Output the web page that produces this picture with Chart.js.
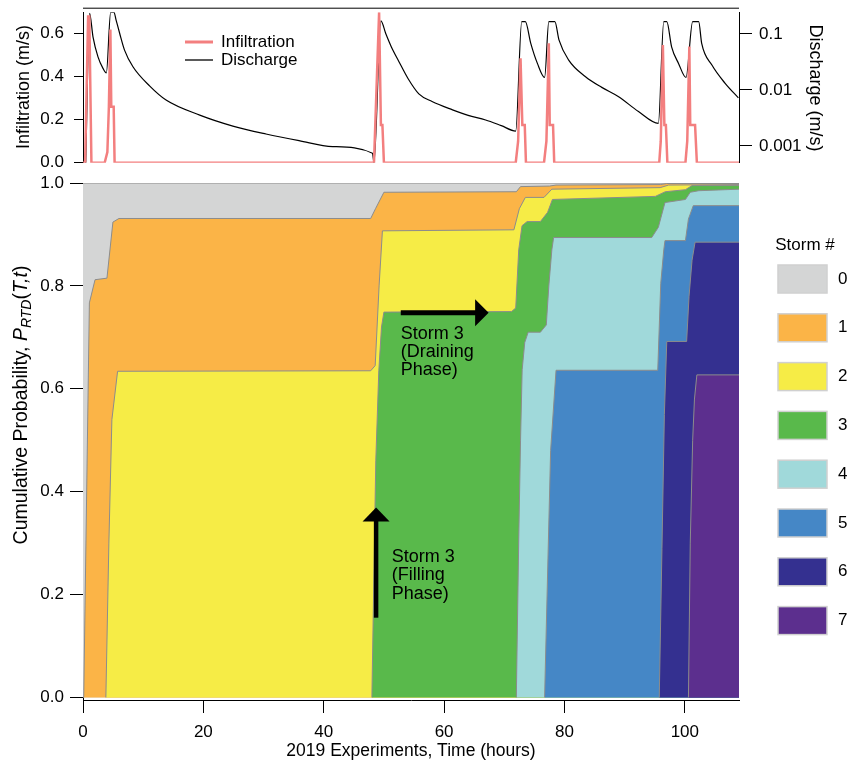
<!DOCTYPE html>
<html>
<head>
<meta charset="utf-8">
<script src="https://cdn.jsdelivr.net/npm/chart.js@4.4.0/dist/chart.umd.min.js"></script>
<style>
  body { margin: 0; background: #fff; }
  #wrap { position: relative; width: 851px; height: 763px; }
  #wrap canvas { position: absolute; left: 0; top: 0; }
</style>
</head>
<body>
<div id="wrap">
  <canvas id="storms" width="851" height="763"></canvas>
  <canvas id="flows" width="851" height="180"></canvas>
</div>
<script>
// ---- data (hours, value) ----
const infiltration = [
  [0, 0], [0.35, 0], [0.85, 0.68], [1.05, 0.68], [1.4, 0],
  [3.6, 0], [4.05, 0.05], [4.3, 0.26], [4.55, 0.62], [4.7, 0.26], [5.1, 0.26], [5.25, 0],
  [48.35, 0], [49.2, 0.7], [49.5, 0.175], [49.75, 0.175], [50.0, 0],
  [71.9, 0], [72.3, 0.1], [72.7, 0.486], [73.0, 0.175], [73.4, 0.175], [73.6, 0],
  [76.6, 0], [77.0, 0.1], [77.4, 0.555], [77.55, 0.175], [78.1, 0.175], [78.3, 0],
  [95.75, 0], [96.0, 0.1], [96.35, 0.547], [96.6, 0.175], [96.85, 0.175], [97.1, 0],
  [100.1, 0], [100.4, 0.1], [100.75, 0.54], [100.9, 0.175], [101.7, 0.175], [102.0, 0],
  [109, 0]
];
const discharge = [
  [0.45, 0.0005], [1.1, 0.233], [1.66, 0.089], [2.49, 0.039], [3.32, 0.0243], [3.88, 0.0202],
  [4.6, 0.245], [5.14, 0.245], [5.5, 0.177], [6.1, 0.102], [6.9, 0.0515], [8.3, 0.0259],
  [11.1, 0.0117], [13.8, 0.0066], [19.4, 0.00355], [24.9, 0.00226], [30.4, 0.00163],
  [35.9, 0.00124], [41.5, 0.00097], [48.1, 0.00074], [48.35, 0.0005],
  [49.5, 0.172], [50.3, 0.102], [51.2, 0.06], [52.5, 0.032], [54.0, 0.016], [55.8, 0.0085],
  [58.0, 0.0062], [61.4, 0.0044], [64.0, 0.0035], [66.9, 0.0029], [69.5, 0.0023], [71.9, 0.00184],
  [72.9, 0.166], [73.5, 0.166], [74.4, 0.068], [75.5, 0.0298], [76.7, 0.0167],
  [77.4, 0.166], [78.4, 0.166], [79.1, 0.0775], [80.7, 0.0341], [83.5, 0.0172], [86.2, 0.0111],
  [89.0, 0.00755], [92.3, 0.0041], [95.6, 0.00253],
  [96.5, 0.166], [97.0, 0.166], [97.8, 0.059], [98.95, 0.0298], [100.2, 0.0167],
  [101.3, 0.166], [102.3, 0.166], [102.8, 0.068], [104.5, 0.0278], [106.7, 0.0131], [108.9, 0.0072]
];
const flowLabels = ['Infiltration', 'Discharge'];
const infTicks = [0, 0.1, 0.2, 0.3, 0.4, 0.5, 0.6, 0.7];
const qTicks = [0.001, 0.01, 0.1];

// cumulative probability boundaries: share of water from storm k or later
const storm0 = [[0, 1], [109, 1]];
const storm1 = [[0.12, 0], [1.06, 0.767], [2.0, 0.812], [3.98, 0.815], [4.97, 0.924], [5.97, 0.931],
  [47.8, 0.931], [48.6, 0.95], [50.0, 0.982], [72.0, 0.983], [72.7, 0.993], [77.5, 0.994],
  [78.6, 0.996], [96.0, 0.997], [97.0, 0.999], [109, 0.999]];
const storm2 = [[3.8, 0], [4.3, 0.3], [4.8, 0.54], [5.75, 0.634], [47.8, 0.635], [48.55, 0.645],
  [49.2, 0.8], [49.75, 0.907], [71.6, 0.909], [72.5, 0.95], [73.5, 0.972], [76.6, 0.972],
  [77.9, 0.988], [95.9, 0.991], [97.3, 0.996], [109, 0.997]];
const storm3 = [[48.0, 0], [48.35, 0.25], [48.65, 0.46], [49.15, 0.635], [49.6, 0.72], [50.0, 0.749],
  [71.2, 0.75], [71.9, 0.757], [72.4, 0.87], [72.95, 0.917], [73.8, 0.925], [76.0, 0.925],
  [77.2, 0.943], [78.0, 0.968], [95.1, 0.974], [96.75, 0.983], [100.1, 0.987], [101.2, 0.995], [109, 0.995]];
const storm4 = [[72.0, 0], [72.4, 0.306], [72.7, 0.5], [72.97, 0.637], [73.4, 0.69], [73.97, 0.71],
  [76.0, 0.71], [76.98, 0.724], [77.4, 0.8], [77.9, 0.87], [78.2, 0.894], [94.5, 0.894],
  [95.6, 0.914], [96.7, 0.962], [100.1, 0.968], [100.9, 0.982], [102.3, 0.985], [109, 0.988]];
const storm5 = [[76.7, 0], [77.3, 0.29], [77.7, 0.48], [78.6, 0.636], [95.5, 0.636], [96.0, 0.805],
  [96.5, 0.87], [96.7, 0.888], [100.1, 0.888], [100.6, 0.93], [101.4, 0.956], [109, 0.956]];
const storm6 = [[95.75, 0], [96.2, 0.29], [96.6, 0.55], [97.0, 0.692], [100.3, 0.692], [100.7, 0.78],
  [101.2, 0.85], [101.7, 0.885], [109, 0.885]];
const storm7 = [[100.6, 0], [100.9, 0.3], [101.3, 0.5], [101.6, 0.58], [102.0, 0.627], [109, 0.627]];

const stormNames = ['0', '1', '2', '3', '4', '5', '6', '7'];
const timeTicks = [0, 20, 40, 60, 80, 100];
const probTicks = [0, 0.2, 0.4, 0.6, 0.8, 1.0];

const stormColors = ['#d4d5d5', '#fbb447', '#f6ec46', '#59b94b', '#a0d9da', '#4587c6', '#343090', '#5c2f8e'];
const FONT = '"Liberation Sans", Arial, Helvetica, sans-serif';

Chart.defaults.font.family = FONT;
Chart.defaults.font.size = 17;
Chart.defaults.color = '#000';
Chart.defaults.animation = false;
Chart.defaults.responsive = false;
Chart.defaults.plugins.legend.display = false;
Chart.defaults.plugins.tooltip.enabled = false;

const toXY = pts => pts.map(p => ({ x: p[0], y: p[1] }));

// fixed axis box, no extra label overhang
const fixWidth = w => s => { s.width = w; s.paddingTop = 0; s.paddingBottom = 0; };

function rotatedText(ctx, text, x, y, angle) {
  ctx.save();
  ctx.translate(x, y);
  ctx.rotate(angle);
  ctx.textAlign = 'center';
  ctx.textBaseline = 'middle';
  ctx.fillText(text, 0, 0);
  ctx.restore();
}

// top panel: frame line, legend, axis titles
const flowExtras = {
  id: 'flowExtras',
  afterDraw(chart) {
    const { ctx, chartArea: a } = chart;
    ctx.save();
    ctx.strokeStyle = '#000';
    ctx.lineWidth = 1;
    ctx.beginPath();
    ctx.moveTo(a.left, a.top - 4);
    ctx.lineTo(a.right, a.top - 4);
    ctx.stroke();

    ctx.font = '17px ' + FONT;
    ctx.textBaseline = 'middle';
    ctx.textAlign = 'left';
    chart.data.datasets.forEach((ds, i) => {
      const y = 42 + i * 18;
      ctx.strokeStyle = ds.borderColor;
      ctx.lineWidth = i === 0 ? 3 : 1.3;
      ctx.beginPath();
      ctx.moveTo(185, y);
      ctx.lineTo(213, y);
      ctx.stroke();
      ctx.fillStyle = '#000';
      ctx.fillText(ds.label, 221, y);
    });

    ctx.font = '18px ' + FONT;
    rotatedText(ctx, 'Infiltration (m/s)', 24, 87, -Math.PI / 2);
    rotatedText(ctx, 'Discharge (m/s)', 815, 88, Math.PI / 2);
    ctx.restore();
  }
};

new Chart(document.getElementById('flows'), {
  type: 'line',
  data: {
    datasets: [
      { label: flowLabels[0], data: toXY(infiltration), yAxisID: 'yInf',
        borderColor: '#f37f7f', borderWidth: 2.5, pointRadius: 0, tension: 0 },
      { label: flowLabels[1], data: toXY(discharge), yAxisID: 'yQ',
        borderColor: '#000', borderWidth: 1.2, pointRadius: 0, cubicInterpolationMode: 'monotone' }
    ]
  },
  options: {
    layout: { padding: { left: 0, right: 0, top: 12.2, bottom: 17.3 } },
    scales: {
      x: { type: 'linear', min: 0, max: 109, display: false },
      yInf: {
        position: 'left', min: 0, max: 0.7,
        afterFit: fixWidth(83),
        afterBuildTicks: s => { s.ticks = infTicks.map(v => ({ value: v })); },
        ticks: { padding: 10, callback: v => (Math.round(v * 10) % 2 === 0 ? v.toFixed(1) : '') },
        grid: { drawOnChartArea: false, color: '#000', tickLength: 9 },
        border: { color: '#000' }
      },
      yQ: {
        type: 'logarithmic', position: 'right', min: 0.0005, max: 0.245,
        afterFit: fixWidth(112),
        afterBuildTicks: s => { s.ticks = qTicks.map(v => ({ value: v })); },
        ticks: { padding: 7, callback: v => String(v) },
        grid: { drawOnChartArea: false, color: '#000', tickLength: 13 },
        border: { color: '#000' }
      }
    }
  },
  plugins: [flowExtras]
});

// bottom panel: annotations, legend, titles
function arrowUp(ctx, x, yBase, yTip) {
  ctx.lineWidth = 4.5;
  ctx.beginPath();
  ctx.moveTo(x, yBase);
  ctx.lineTo(x, yTip + 12);
  ctx.stroke();
  ctx.beginPath();
  ctx.moveTo(x, yTip);
  ctx.lineTo(x - 13.5, yTip + 14);
  ctx.lineTo(x + 13.5, yTip + 14);
  ctx.closePath();
  ctx.fill();
}
function arrowRight(ctx, xBase, xTip, y) {
  ctx.lineWidth = 5;
  ctx.beginPath();
  ctx.moveTo(xBase, y);
  ctx.lineTo(xTip - 12, y);
  ctx.stroke();
  ctx.beginPath();
  ctx.moveTo(xTip, y);
  ctx.lineTo(xTip - 13.5, y - 13.5);
  ctx.lineTo(xTip - 13.5, y + 13.5);
  ctx.closePath();
  ctx.fill();
}

const stormExtras = {
  id: 'stormExtras',
  afterDraw(chart) {
    const { ctx, chartArea: a, scales: { x, y } } = chart;
    ctx.save();
    ctx.fillStyle = '#000';
    ctx.strokeStyle = '#000';

    arrowUp(ctx, x.getPixelForValue(48.7), y.getPixelForValue(0.155), y.getPixelForValue(0.369));
    arrowRight(ctx, x.getPixelForValue(52.8), x.getPixelForValue(67.4), y.getPixelForValue(0.748));

    ctx.font = '18px ' + FONT;
    ctx.textAlign = 'left';
    ctx.textBaseline = 'middle';
    const fillX = x.getPixelForValue(51.3), fillY = y.getPixelForValue(0.273);
    ['Storm 3', '(Filling', 'Phase)'].forEach((s, i) => ctx.fillText(s, fillX, fillY + i * 18.3));
    const drainX = x.getPixelForValue(52.8), drainY = y.getPixelForValue(0.707);
    ['Storm 3', '(Draining', 'Phase)'].forEach((s, i) => ctx.fillText(s, drainX, drainY + i * 18.3));

    // x title
    ctx.font = '17.5px ' + FONT;
    ctx.textAlign = 'center';
    ctx.fillText('2019 Experiments, Time (hours)', (a.left + a.right) / 2, 751.5);

    // y title with italic P_RTD(T,t)
    const parts = [
      { t: 'Cumulative Probability, ', f: '19.5px ' + FONT, dy: 0 },
      { t: 'P', f: 'italic 19.5px ' + FONT, dy: 0 },
      { t: 'RTD', f: 'italic 14px ' + FONT, dy: 5 },
      { t: '(', f: '19.5px ' + FONT, dy: 0 },
      { t: 'T,t', f: 'italic 19.5px ' + FONT, dy: 0 },
      { t: ')', f: '19.5px ' + FONT, dy: 0 }
    ];
    let w = 0;
    parts.forEach(p => { ctx.font = p.f; w += ctx.measureText(p.t).width; });
    ctx.save();
    ctx.translate(22, 405);
    ctx.rotate(-Math.PI / 2);
    ctx.textAlign = 'left';
    let px = -w / 2;
    parts.forEach(p => {
      ctx.font = p.f;
      ctx.fillText(p.t, px, p.dy);
      px += ctx.measureText(p.t).width;
    });
    ctx.restore();

    // storm legend
    ctx.font = '17px ' + FONT;
    ctx.textAlign = 'center';
    ctx.fillText('Storm #', 805, 245);
    ctx.textAlign = 'left';
    stormNames.forEach((name, k) => {
      const cy = 279 + k * 48.8;
      ctx.fillStyle = stormColors[k];
      ctx.fillRect(778, cy - 14, 49, 28);
      ctx.strokeStyle = '#d0d0d0';
      ctx.lineWidth = 1.5;
      ctx.strokeRect(778, cy - 14, 49, 28);
      ctx.fillStyle = '#000';
      ctx.fillText(name, 838, cy);
    });
    ctx.restore();
  }
};

const bounds = [storm0, storm1, storm2, storm3, storm4, storm5, storm6, storm7];

new Chart(document.getElementById('storms'), {
  type: 'line',
  data: {
    datasets: bounds.map((pts, k) => ({
      label: 'Storm ' + stormNames[k],
      data: toXY(pts),
      order: -k,
      fill: 'origin',
      backgroundColor: stormColors[k],
      borderColor: '#8c8c8c',
      borderWidth: 1,
      pointRadius: 0,
      tension: 0
    }))
  },
  options: {
    layout: { padding: { left: 0, right: 112, top: 183, bottom: 0 } },
    scales: {
      x: {
        type: 'linear', min: 0, max: 109,
        afterFit: s => { s.height = 63; },
        afterBuildTicks: s => { s.ticks = timeTicks.map(v => ({ value: v })); },
        ticks: { padding: 9, maxRotation: 0, callback: v => String(v) },
        grid: { drawOnChartArea: false, color: '#000', tickLength: 13 },
        border: { color: '#000' }
      },
      y: {
        min: -0.005, max: 1,
        afterFit: s => { s.width = 83; },
        afterBuildTicks: s => { s.ticks = probTicks.map(v => ({ value: v })); },
        ticks: { padding: 6, callback: v => v.toFixed(1) },
        grid: { drawOnChartArea: false, color: '#000', tickLength: 13 },
        border: { color: '#000' }
      }
    }
  },
  plugins: [stormExtras]
});
</script>
</body>
</html>
